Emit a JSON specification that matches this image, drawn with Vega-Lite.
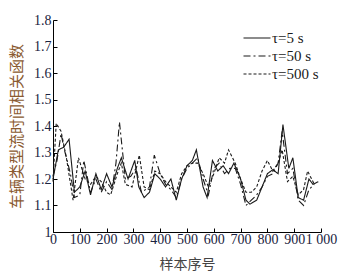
{
  "$schema": "https://vega.github.io/schema/vega-lite/v6.json",
  "autosize": "none",
  "padding": {"left": 53, "top": 20, "right": 43, "bottom": 46},
  "width": 268,
  "height": 212,
  "background": "white",
  "config": {"view": {"stroke": null}, "font": "Liberation Serif"},
  "datasets": {
    "a": [
      {"x":0,"s":"τ=5 s","v":1.20},{"x":20,"s":"τ=5 s","v":1.31},{"x":40,"s":"τ=5 s","v":1.32},{"x":60,"s":"τ=5 s","v":1.35},{"x":80,"s":"τ=5 s","v":1.15},{"x":100,"s":"τ=5 s","v":1.17},{"x":120,"s":"τ=5 s","v":1.23},{"x":140,"s":"τ=5 s","v":1.14},{"x":160,"s":"τ=5 s","v":1.22},{"x":180,"s":"τ=5 s","v":1.16},{"x":200,"s":"τ=5 s","v":1.22},{"x":220,"s":"τ=5 s","v":1.17},{"x":240,"s":"τ=5 s","v":1.24},{"x":255,"s":"τ=5 s","v":1.28},{"x":280,"s":"τ=5 s","v":1.20},{"x":305,"s":"τ=5 s","v":1.27},{"x":320,"s":"τ=5 s","v":1.17},{"x":340,"s":"τ=5 s","v":1.13},{"x":360,"s":"τ=5 s","v":1.15},{"x":380,"s":"τ=5 s","v":1.22},{"x":400,"s":"τ=5 s","v":1.20},{"x":420,"s":"τ=5 s","v":1.17},{"x":440,"s":"τ=5 s","v":1.20},{"x":460,"s":"τ=5 s","v":1.12},{"x":480,"s":"τ=5 s","v":1.20},{"x":500,"s":"τ=5 s","v":1.25},{"x":520,"s":"τ=5 s","v":1.27},{"x":535,"s":"τ=5 s","v":1.31},{"x":560,"s":"τ=5 s","v":1.17},{"x":575,"s":"τ=5 s","v":1.13},{"x":595,"s":"τ=5 s","v":1.27},{"x":615,"s":"τ=5 s","v":1.23},{"x":635,"s":"τ=5 s","v":1.25},{"x":655,"s":"τ=5 s","v":1.22},{"x":675,"s":"τ=5 s","v":1.26},{"x":700,"s":"τ=5 s","v":1.20},{"x":720,"s":"τ=5 s","v":1.12},{"x":735,"s":"τ=5 s","v":1.105},{"x":760,"s":"τ=5 s","v":1.12},{"x":780,"s":"τ=5 s","v":1.17},{"x":800,"s":"τ=5 s","v":1.22},{"x":820,"s":"τ=5 s","v":1.235},{"x":840,"s":"τ=5 s","v":1.22},{"x":858,"s":"τ=5 s","v":1.405},{"x":880,"s":"τ=5 s","v":1.24},{"x":895,"s":"τ=5 s","v":1.28},{"x":915,"s":"τ=5 s","v":1.13},{"x":935,"s":"τ=5 s","v":1.12},{"x":955,"s":"τ=5 s","v":1.20},{"x":970,"s":"τ=5 s","v":1.18},{"x":990,"s":"τ=5 s","v":1.19},
      {"x":0,"s":"τ=50 s","v":1.21},{"x":15,"s":"τ=50 s","v":1.27},{"x":30,"s":"τ=50 s","v":1.37},{"x":45,"s":"τ=50 s","v":1.30},{"x":65,"s":"τ=50 s","v":1.22},{"x":80,"s":"τ=50 s","v":1.13},{"x":100,"s":"τ=50 s","v":1.14},{"x":115,"s":"τ=50 s","v":1.27},{"x":140,"s":"τ=50 s","v":1.15},{"x":160,"s":"τ=50 s","v":1.20},{"x":180,"s":"τ=50 s","v":1.15},{"x":200,"s":"τ=50 s","v":1.19},{"x":220,"s":"τ=50 s","v":1.16},{"x":235,"s":"τ=50 s","v":1.26},{"x":248,"s":"τ=50 s","v":1.415},{"x":270,"s":"τ=50 s","v":1.20},{"x":290,"s":"τ=50 s","v":1.21},{"x":310,"s":"τ=50 s","v":1.24},{"x":330,"s":"τ=50 s","v":1.15},{"x":360,"s":"τ=50 s","v":1.17},{"x":378,"s":"τ=50 s","v":1.29},{"x":400,"s":"τ=50 s","v":1.22},{"x":420,"s":"τ=50 s","v":1.18},{"x":440,"s":"τ=50 s","v":1.16},{"x":460,"s":"τ=50 s","v":1.13},{"x":480,"s":"τ=50 s","v":1.20},{"x":500,"s":"τ=50 s","v":1.24},{"x":520,"s":"τ=50 s","v":1.26},{"x":540,"s":"τ=50 s","v":1.28},{"x":560,"s":"τ=50 s","v":1.20},{"x":580,"s":"τ=50 s","v":1.14},{"x":600,"s":"τ=50 s","v":1.24},{"x":620,"s":"τ=50 s","v":1.26},{"x":640,"s":"τ=50 s","v":1.22},{"x":660,"s":"τ=50 s","v":1.24},{"x":680,"s":"τ=50 s","v":1.24},{"x":700,"s":"τ=50 s","v":1.18},{"x":720,"s":"τ=50 s","v":1.10},{"x":740,"s":"τ=50 s","v":1.12},{"x":760,"s":"τ=50 s","v":1.14},{"x":780,"s":"τ=50 s","v":1.17},{"x":800,"s":"τ=50 s","v":1.21},{"x":820,"s":"τ=50 s","v":1.22},{"x":840,"s":"τ=50 s","v":1.26},{"x":855,"s":"τ=50 s","v":1.38},{"x":875,"s":"τ=50 s","v":1.22},{"x":895,"s":"τ=50 s","v":1.24},{"x":915,"s":"τ=50 s","v":1.12},{"x":935,"s":"τ=50 s","v":1.10},{"x":955,"s":"τ=50 s","v":1.16},{"x":975,"s":"τ=50 s","v":1.18},
      {"x":0,"s":"τ=500 s","v":1.19},{"x":12,"s":"τ=500 s","v":1.41},{"x":30,"s":"τ=500 s","v":1.38},{"x":50,"s":"τ=500 s","v":1.28},{"x":75,"s":"τ=500 s","v":1.12},{"x":95,"s":"τ=500 s","v":1.28},{"x":120,"s":"τ=500 s","v":1.20},{"x":140,"s":"τ=500 s","v":1.18},{"x":160,"s":"τ=500 s","v":1.21},{"x":180,"s":"τ=500 s","v":1.19},{"x":200,"s":"τ=500 s","v":1.15},{"x":215,"s":"τ=500 s","v":1.14},{"x":240,"s":"τ=500 s","v":1.22},{"x":255,"s":"τ=500 s","v":1.26},{"x":270,"s":"τ=500 s","v":1.18},{"x":295,"s":"τ=500 s","v":1.17},{"x":322,"s":"τ=500 s","v":1.29},{"x":340,"s":"τ=500 s","v":1.17},{"x":360,"s":"τ=500 s","v":1.16},{"x":380,"s":"τ=500 s","v":1.23},{"x":400,"s":"τ=500 s","v":1.22},{"x":420,"s":"τ=500 s","v":1.19},{"x":440,"s":"τ=500 s","v":1.17},{"x":460,"s":"τ=500 s","v":1.15},{"x":480,"s":"τ=500 s","v":1.22},{"x":500,"s":"τ=500 s","v":1.25},{"x":520,"s":"τ=500 s","v":1.26},{"x":540,"s":"τ=500 s","v":1.26},{"x":560,"s":"τ=500 s","v":1.22},{"x":580,"s":"τ=500 s","v":1.17},{"x":600,"s":"τ=500 s","v":1.22},{"x":620,"s":"τ=500 s","v":1.28},{"x":640,"s":"τ=500 s","v":1.26},{"x":655,"s":"τ=500 s","v":1.31},{"x":680,"s":"τ=500 s","v":1.26},{"x":700,"s":"τ=500 s","v":1.20},{"x":720,"s":"τ=500 s","v":1.15},{"x":740,"s":"τ=500 s","v":1.15},{"x":760,"s":"τ=500 s","v":1.17},{"x":780,"s":"τ=500 s","v":1.23},{"x":800,"s":"τ=500 s","v":1.27},{"x":820,"s":"τ=500 s","v":1.23},{"x":840,"s":"τ=500 s","v":1.26},{"x":855,"s":"τ=500 s","v":1.31},{"x":875,"s":"τ=500 s","v":1.19},{"x":895,"s":"τ=500 s","v":1.21},{"x":915,"s":"τ=500 s","v":1.14},{"x":935,"s":"τ=500 s","v":1.16},{"x":950,"s":"τ=500 s","v":1.23},{"x":975,"s":"τ=500 s","v":1.18}
    ]
  },
  "data": {"name": "a"},
  "mark": {"type": "line", "strokeWidth": 1.1, "color": "#1a1a1a"},
  "encoding": {
    "x": {
      "field": "x", "type": "quantitative",
      "scale": {"domain": [0, 1000], "nice": false},
      "axis": {
        "values": [0,100,200,300,400,500,600,700,800,900,1000],
        "labelExpr": "datum.value == 1000 ? '1 000' : datum.label",
        "title": "样本序号", "titleFont": "Noto Sans CJK SC", "titleFontWeight": "normal",
        "titleFontSize": 14, "titleColor": "#444", "titlePadding": 11,
        "labelFont": "Liberation Serif", "labelFontSize": 14, "labelColor": "#1a2340",
        "labelPadding": 4, "grid": false, "tickSize": -4, "domainColor": "#000", "tickColor": "#000",
        "labelFlush": false, "labelOverlap": false
      }
    },
    "y": {
      "field": "v", "type": "quantitative",
      "scale": {"domain": [1, 1.8], "nice": false, "zero": false},
      "axis": {
        "values": [1,1.1,1.2,1.3,1.4,1.5,1.6,1.7,1.8],
        "labelExpr": "datum.value == 1 ? '1' : format(datum.value, '.1f')",
        "title": "车辆类型流时间相关函数", "titleFont": "Noto Sans CJK SC", "titleFontWeight": "normal",
        "titleFontSize": 15, "titleColor": "#8a5a30", "titlePadding": 9,
        "labelFont": "Liberation Serif", "labelFontSize": 14, "labelColor": "#1a2340",
        "labelPadding": 6, "grid": false, "tickSize": -4, "domainColor": "#000", "tickColor": "#000",
        "labelFlush": false, "labelOverlap": false
      }
    },
    "strokeDash": {
      "field": "s", "type": "nominal",
      "scale": {"domain": ["τ=5 s","τ=50 s","τ=500 s"], "range": [[1,0],[7,3,2,3],[3,2]]},
      "legend": {
        "orient": "none", "legendX": 194, "legendY": 8, "title": null,
        "symbolType": "M-1.5,0H1.5", "symbolSize": 324, "symbolStrokeWidth": 1.2, "symbolStrokeColor": "#1a1a1a",
        "symbolFillColor": "transparent",
        "labelFont": "Liberation Serif", "labelFontSize": 15, "labelColor": "#1a1a1a",
        "rowPadding": 0, "labelOffset": 5
      }
    }
  }
}
